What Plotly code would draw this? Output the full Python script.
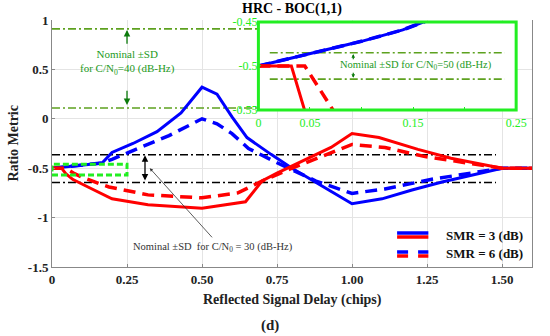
import plotly.graph_objects as go

# ---------------- data ----------------
blue3_x = [0, 0.05, 0.1, 0.14, 0.167, 0.2, 0.27, 0.35, 0.43, 0.5, 0.55, 0.6, 0.65, 0.73, 0.8, 0.9, 1.0, 1.1, 1.2, 1.3, 1.4, 1.5, 1.6]
blue3_y = [-0.5, -0.486, -0.472, -0.459, -0.447, -0.34, -0.25, -0.13, 0.06, 0.32, 0.25, 0.02, -0.19, -0.36, -0.5, -0.68, -0.86, -0.81, -0.72, -0.64, -0.57, -0.5, -0.5]

blue6_x = [0, 0.05, 0.1, 0.14, 0.167, 0.2, 0.29, 0.39, 0.5, 0.55, 0.6, 0.655, 0.74, 0.88, 1.0, 1.11, 1.27, 1.4, 1.5, 1.6]
blue6_y = [-0.5, -0.486, -0.472, -0.459, -0.447, -0.41, -0.30, -0.17, 0.0, -0.05, -0.15, -0.30, -0.43, -0.63, -0.755, -0.71, -0.61, -0.55, -0.5, -0.5]

red3_x = [0, 0.032, 0.046, 0.07, 0.12, 0.2, 0.32, 0.5, 0.645, 0.7, 0.75, 0.85, 0.93, 1.0, 1.09, 1.22, 1.33, 1.5, 1.6]
red3_y = [-0.5, -0.5, -0.555, -0.615, -0.69, -0.81, -0.87, -0.905, -0.84, -0.63, -0.55, -0.41, -0.29, -0.15, -0.19, -0.31, -0.40, -0.5, -0.5]

red6_x = [0, 0.045, 0.075, 0.1, 0.16, 0.19, 0.32, 0.5, 0.62, 0.7, 0.8, 0.9, 0.96, 1.0, 1.11, 1.24, 1.39, 1.5, 1.6]
red6_y = [-0.5, -0.5, -0.555, -0.59, -0.66, -0.69, -0.77, -0.8, -0.75, -0.63, -0.5, -0.38, -0.3, -0.26, -0.29, -0.38, -0.45, -0.5, -0.5]

sd40_levels = [0.91, 0.11]
sd40_span = [0, 1.405]
sd30_levels = [-0.365, -0.645]
sd30_span = [0, 1.48]
sd50_levels = [-0.485, -0.515]
sd50_span = [0.011, 0.239]

x_ticks = [0, 0.25, 0.5, 0.75, 1.0, 1.25, 1.5]
x_ticktext = ["0", "0.25", "0.50", "0.75", "1.00", "1.25", "1.50"]
y_ticks = [1, 0.5, 0, -0.5, -1, -1.5]
y_ticktext = ["1", "0.5", "0", "-0.5", "-1", "-1.5"]
inset_x_ticks = [0, 0.05, 0.1, 0.15, 0.2, 0.25]
inset_x_text = ["0", "0.05", "", "0.15", "", "0.25"]
inset_y_ticks = [-0.45, -0.5, -0.55]
inset_y_text = ["-0.45", "-0.5", "-0.55"]

# ---------------- styles ----------------
FONT = "Liberation Serif"
BLUE = "#0000ff"
RED = "#ff0000"
OLIVE = "#5da11f"
LIME = "#22ee22"
TXTGREEN = "#239a23"
DASH = "12px,7px"
DASHDOT = "8px,3px,2px,3px"

X_RANGE = [0, 1.6]
Y_RANGE = [-1.5, 1]

fig = go.Figure()

def add_curves(xa, ya):
    fig.add_trace(go.Scatter(x=blue3_x, y=blue3_y, mode="lines", line=dict(color=BLUE, width=3),
                             xaxis=xa, yaxis=ya, showlegend=False, name="SMR = 3 (dB)"))
    fig.add_trace(go.Scatter(x=blue6_x, y=blue6_y, mode="lines", line=dict(color=BLUE, width=3.5, dash=DASH),
                             xaxis=xa, yaxis=ya, showlegend=False, name="SMR = 6 (dB)"))
    fig.add_trace(go.Scatter(x=red3_x, y=red3_y, mode="lines", line=dict(color=RED, width=3),
                             xaxis=xa, yaxis=ya, showlegend=False, name="SMR = 3 (dB)"))
    fig.add_trace(go.Scatter(x=red6_x, y=red6_y, mode="lines", line=dict(color=RED, width=3.5, dash=DASH),
                             xaxis=xa, yaxis=ya, showlegend=False, name="SMR = 6 (dB)"))

for lv in sd30_levels:
    fig.add_trace(go.Scatter(x=sd30_span, y=[lv, lv], mode="lines",
                             line=dict(color="black", width=1.5, dash=DASHDOT),
                             showlegend=False, hoverinfo="skip"))
for lv in sd40_levels:
    fig.add_trace(go.Scatter(x=sd40_span, y=[lv, lv], mode="lines",
                             line=dict(color=OLIVE, width=1.6, dash=DASHDOT),
                             showlegend=False, hoverinfo="skip"))

add_curves("x", "y")

for lv in sd50_levels:
    fig.add_trace(go.Scatter(x=sd50_span, y=[lv, lv], mode="lines",
                             line=dict(color=OLIVE, width=1.6, dash=DASHDOT),
                             xaxis="x2", yaxis="y2", showlegend=False, hoverinfo="skip"))
add_curves("x2", "y2")

# green dashed zoom box on main axes
fig.add_shape(type="rect", xref="x", yref="y", x0=0, x1=0.25, y0=-0.57, y1=-0.46,
              line=dict(color=LIME, width=3, dash="6px,3px"), layer="above")

# inset placement (fractions of the main plot area)
IX0, IX1, IY0, IY1 = 0.43, 0.967, 0.636, 0.992
fig.add_shape(type="rect", xref="x", yref="y",
              x0=X_RANGE[0] + IX0 * (X_RANGE[1] - X_RANGE[0]), x1=X_RANGE[0] + IX1 * (X_RANGE[1] - X_RANGE[0]),
              y0=Y_RANGE[0] + IY0 * (Y_RANGE[1] - Y_RANGE[0]), y1=Y_RANGE[0] + IY1 * (Y_RANGE[1] - Y_RANGE[0]),
              fillcolor="white", line=dict(width=0), layer="between")
fig.add_shape(type="rect", xref="paper", yref="paper", x0=IX0, x1=IX1, y0=IY0, y1=IY1,
              line=dict(color=LIME, width=3), layer="above")

annotations = []
annotations.append(dict(text="<b>HRC - BOC(1,1)</b>", xref="paper", yref="paper", x=0.5, y=1.045,
                        xanchor="center", yanchor="middle",
                        showarrow=False, font=dict(size=14, color="black", family=FONT)))
annotations.append(dict(text="<b>Reflected Signal Delay (chips)</b>", xref="paper", yref="paper", x=0.5, y=-0.134,
                        xanchor="center", yanchor="middle",
                        showarrow=False, font=dict(size=14, color="#222", family=FONT)))
annotations.append(dict(text="<b>(d)</b>", xref="paper", yref="paper", x=0.455, y=-0.235,
                        xanchor="center", yanchor="middle",
                        showarrow=False, font=dict(size=15, color="#222", family=FONT)))
annotations.append(dict(text="<b>Ratio Metric</b>", xref="paper", yref="paper", x=-0.081, y=0.5, textangle=-90,
                        xanchor="center", yanchor="middle",
                        showarrow=False, font=dict(size=14, color="#222", family=FONT)))

annotations.append(dict(text="Nominal ±SD<br>for C/N<sub>0</sub>=40 (dB-Hz)", x=0.25, y=0.57, xref="x", yref="y",
                        showarrow=False, font=dict(size=11, color=TXTGREEN, family=FONT)))
annotations.append(dict(text="", x=0.25, y=0.9, ax=0.25, ay=0.745, xref="x", yref="y", axref="x", ayref="y",
                        showarrow=True, arrowhead=2, arrowsize=1, arrowwidth=1.3, arrowcolor="#0b7a0b"))
annotations.append(dict(text="", x=0.25, y=0.14, ax=0.25, ay=0.3, xref="x", yref="y", axref="x", ayref="y",
                        showarrow=True, arrowhead=2, arrowsize=1, arrowwidth=1.3, arrowcolor="#0b7a0b"))

annotations.append(dict(text="", x=0.31, y=-0.37, ax=0.31, ay=-0.64, xref="x", yref="y", axref="x", ayref="y",
                        showarrow=True, arrowhead=2, arrowside="end+start", arrowsize=1, arrowwidth=1.3,
                        arrowcolor="black"))
annotations.append(dict(text="", x=0.326, y=-0.5, ax=0.538, ay=-1.215, xref="x", yref="y", axref="x", ayref="y",
                        showarrow=True, arrowhead=2, arrowsize=0.8, arrowwidth=0.8, arrowcolor="#333"))
annotations.append(dict(text="Nominal ±SD  for C/N<sub>0</sub> = 30 (dB-Hz)", x=0.538, y=-1.3, xref="x", yref="y",
                        showarrow=False, font=dict(size=10.5, color="#333", family=FONT)))

annotations.append(dict(text="Nominal ±SD for C/N<sub>0</sub>=50 (dB-Hz)", x=0.153, y=-0.5, xref="x2", yref="y2",
                        showarrow=False, font=dict(size=10.5, color=TXTGREEN, family=FONT)))
annotations.append(dict(text="", x=0.092, y=-0.4865, ax=0.092, ay=-0.494, xref="x2", yref="y2", axref="x2", ayref="y2",
                        showarrow=True, arrowhead=2, arrowsize=0.6, arrowwidth=1.2, arrowcolor="#0b7a0b"))
annotations.append(dict(text="", x=0.092, y=-0.5135, ax=0.092, ay=-0.506, xref="x2", yref="y2", axref="x2", ayref="y2",
                        showarrow=True, arrowhead=2, arrowsize=0.6, arrowwidth=1.2, arrowcolor="#0b7a0b"))

def px2x(px):
    return (px - 52) / 491.0

def py2y(py):
    return (267 - py) / 247.0

legend_rows = [("SMR = 3 (dB)", "solid", 233, 237, 235), ("SMR = 6 (dB)", "11px,10px", 252, 256, 253)]
for label, dash, yb, yr, yt in legend_rows:
    fig.add_shape(type="line", xref="paper", yref="paper", x0=px2x(405), x1=px2x(437), y0=py2y(yb), y1=py2y(yb),
                  line=dict(color=BLUE, width=3.5, dash=dash))
    fig.add_shape(type="line", xref="paper", yref="paper", x0=px2x(405), x1=px2x(437), y0=py2y(yr), y1=py2y(yr),
                  line=dict(color=RED, width=3.5, dash=dash))
    annotations.append(dict(text="<b>" + label + "</b>", xref="paper", yref="paper", x=px2x(453), y=py2y(yt),
                            xanchor="left", yanchor="middle", showarrow=False,
                            font=dict(size=13, color="#111", family=FONT)))

fig.update_layout(
    width=550, height=336,
    margin=dict(l=52, r=7, t=20, b=69),
    paper_bgcolor="white", plot_bgcolor="white",
    font=dict(family=FONT, color="#222"),
    showlegend=False,
    annotations=annotations,
    xaxis=dict(domain=[0, 1], range=X_RANGE, tickvals=x_ticks, ticktext=x_ticktext,
               showgrid=True, gridcolor="#e4e4e4", gridwidth=1, zeroline=False,
               showline=True, linecolor="#888", linewidth=1, ticks="inside", ticklen=3, tickcolor="#888",
               tickfont=dict(size=13, color="#222", family=FONT, weight="bold"), anchor="y"),
    yaxis=dict(domain=[0, 1], range=Y_RANGE, tickvals=y_ticks, ticktext=y_ticktext,
               showgrid=True, gridcolor="#e4e4e4", gridwidth=1, zeroline=False,
               showline=True, linecolor="#888", linewidth=1, mirror=True, ticks="inside", ticklen=3, tickcolor="#888",
               tickfont=dict(size=13, color="#222", family=FONT, weight="bold"), anchor="x"),
    xaxis2=dict(domain=[IX0, IX1], range=[0, 0.25], tickvals=inset_x_ticks, ticktext=inset_x_text,
                showgrid=False, zeroline=False, showline=False, ticks="inside", ticklen=3, tickcolor=LIME,
                ticklabelstandoff=4,
                tickfont=dict(size=12, color=LIME, family=FONT), anchor="y2"),
    yaxis2=dict(domain=[IY0, IY1], range=[-0.55, -0.45], tickvals=inset_y_ticks, ticktext=inset_y_text,
                showgrid=False, zeroline=False, showline=False, ticks="inside", ticklen=3, tickcolor=LIME,
                tickfont=dict(size=12, color=LIME, family=FONT), anchor="x2"),
)

fig.write_html("out.html", config={"displayModeBar": False},
               post_script="document.body.style.margin='0';document.body.style.padding='0';")
